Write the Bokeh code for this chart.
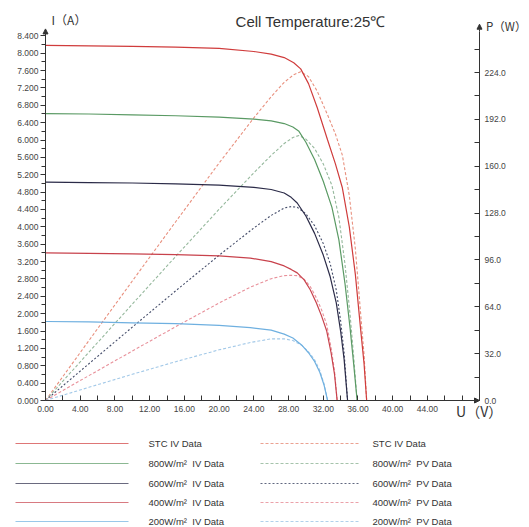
from bokeh.plotting import figure
from bokeh.models import Range1d, LinearAxis, FixedTicker, NumeralTickFormatter, Label, Arrow, NormalHead
from bokeh.layouts import column
from bokeh.core.properties import value
from bokeh.embed import file_html
from bokeh.resources import INLINE

# ---------------- data ----------------
stc_v = [0, 5, 10, 15, 20, 24, 26, 27.5, 28.6, 29.4, 30.3, 31.3, 32.5, 33.4, 34.2, 35.0, 35.7, 36.3, 36.7, 37.0]
stc_i = [8.18, 8.17, 8.16, 8.14, 8.11, 8.04, 7.98, 7.90, 7.78, 7.64, 7.30, 6.75, 6.00, 5.45, 4.90, 4.00, 2.90, 1.65, 0.85, 0.0]
stc_p = [0, 40.9, 81.6, 122.1, 162.2, 193.0, 207.5, 217.3, 222.5, 224.6, 221.2, 211.3, 195.0, 182.0, 167.6, 140.0, 103.5, 59.9, 31.2, 0]

g800_v = [0, 5, 10, 15, 20, 24, 26, 27.5, 28.5, 29.2, 30.0, 31.0, 32.0, 33.0, 33.8, 34.5, 35.1, 35.5, 35.9]
g800_i = [6.61, 6.60, 6.58, 6.56, 6.53, 6.48, 6.44, 6.38, 6.30, 6.20, 5.95, 5.55, 5.05, 4.45, 3.70, 2.70, 1.65, 0.85, 0.0]
g800_p = [0, 33.0, 65.8, 98.4, 130.6, 155.5, 167.4, 175.5, 179.6, 181.0, 178.5, 172.1, 161.6, 146.9, 125.1, 93.2, 57.9, 30.2, 0]

g600_v = [0, 5, 10, 15, 20, 24, 26, 27.5, 28.3, 29.0, 30.0, 31.0, 32.0, 32.8, 33.5, 34.0, 34.4, 34.8]
g600_i = [5.03, 5.02, 5.01, 4.99, 4.96, 4.91, 4.86, 4.78, 4.68, 4.55, 4.25, 3.85, 3.35, 2.85, 2.25, 1.60, 0.95, 0.0]
g600_p = [0, 25.1, 50.1, 74.9, 99.2, 117.8, 126.4, 131.5, 132.4, 132.0, 127.5, 119.4, 107.2, 93.5, 75.4, 54.4, 32.7, 0]

g400_v = [0, 5, 10, 15, 20, 23.6, 26, 27.5, 28.3, 29.0, 29.8, 30.5, 31.2, 31.8, 32.4, 32.9, 33.3, 33.6]
g400_i = [3.40, 3.39, 3.38, 3.36, 3.33, 3.28, 3.20, 3.10, 3.02, 2.94, 2.78, 2.55, 2.25, 1.95, 1.60, 1.10, 0.60, 0.0]
g400_p = [0, 17.0, 33.8, 50.4, 66.6, 77.4, 83.2, 85.3, 85.5, 85.3, 82.8, 77.8, 70.2, 62.0, 51.8, 36.2, 20.0, 0]

g200_v = [0, 5, 10, 15, 20, 23.6, 26, 27.5, 28.5, 29.5, 30.3, 31.0, 31.6, 32.1, 32.5]
g200_i = [1.82, 1.81, 1.79, 1.77, 1.73, 1.68, 1.62, 1.53, 1.44, 1.28, 1.10, 0.90, 0.65, 0.35, 0.0]
g200_p = [0, 9.0, 17.9, 26.5, 34.6, 39.6, 42.1, 42.1, 41.0, 37.8, 33.3, 27.9, 20.5, 11.2, 0]

x_ticks = [0, 4, 8, 12, 16, 20, 24, 28, 32, 36, 40, 44]
x_minor = [2, 6, 10, 14, 18, 22, 26, 30, 34, 38, 42, 46, 48]
i_ticks = [round(k * 0.4, 1) for k in range(22)]
i_minor = [round(0.2 + k * 0.4, 1) for k in range(21)]
p_ticks = [0, 32, 64, 96, 128, 160, 192, 224]
p_minor = [16, 48, 80, 112, 144, 176, 208, 240]

iv_labels = ["STC IV Data", "800W/m\u00b2\u00a0 IV Data", "600W/m\u00b2\u00a0 IV Data",
             "400W/m\u00b2\u00a0 IV Data", "200W/m\u00b2\u00a0 IV Data"]
pv_labels = ["STC IV Data", "800W/m\u00b2\u00a0 PV Data", "600W/m\u00b2\u00a0 PV Data",
             "400W/m\u00b2\u00a0 PV Data", "200W/m\u00b2\u00a0 PV Data"]

iv_colors = ["#d03c3c", "#5a9a64", "#2b2b48", "#c8424c", "#6fb0e0"]
pv_colors = ["#e8907e", "#95b89c", "#454d6a", "#e8909a", "#a3c9e8"]
pv_dash = ["3 2", "3 2", "2 2", "3 2", "3 2"]

FONT = "Liberation Sans"
CJK = "Noto Sans CJK SC"
AX = "#333333"

# ---------------- main chart (frame = whole canvas, axes pinned) ----------------
X_MAX, Y_MAX, P_MAX = 50, 8.5, 252
p = figure(frame_width=529, frame_height=420, min_border=0,
           x_range=Range1d(-5.184, 55.76), y_range=Range1d(-0.4607, 9.2145),
           output_backend="svg", toolbar_location=None)
p.outline_line_color = None
p.xgrid.visible = False
p.ygrid.visible = False
p.background_fill_color = "white"
p.border_fill_color = "white"
p.extra_y_ranges = {"p": Range1d(-0.4607 * P_MAX / Y_MAX, 9.2145 * P_MAX / Y_MAX)}

xa = p.xaxis[0]
xa.fixed_location = 0
xa.bounds = (0, X_MAX)
xa.ticker = FixedTicker(ticks=x_ticks, minor_ticks=x_minor)
xa.formatter = NumeralTickFormatter(format="0.00")
xa.major_tick_in = 5
xa.major_tick_out = 0
xa.minor_tick_in = 5
xa.minor_tick_out = 0
xa.major_label_standoff = 5

ya = p.yaxis[0]
ya.fixed_location = 0
ya.bounds = (0, Y_MAX)
ya.ticker = FixedTicker(ticks=i_ticks, minor_ticks=i_minor)
ya.formatter = NumeralTickFormatter(format="0.000")
ya.major_tick_in = 0
ya.major_tick_out = 5
ya.minor_tick_in = 0
ya.minor_tick_out = 4
ya.major_label_standoff = 2

ra = LinearAxis(y_range_name="p", fixed_location=X_MAX, bounds=(0, P_MAX))
ra.ticker = FixedTicker(ticks=p_ticks, minor_ticks=p_minor)
ra.formatter = NumeralTickFormatter(format="0.0")
ra.major_tick_in = 5
ra.major_tick_out = 0
ra.minor_tick_in = 5
ra.minor_tick_out = 0
ra.major_label_standoff = 5
p.add_layout(ra, "right")

for ax in (xa, ya, ra):
    ax.axis_line_color = AX
    ax.major_tick_line_color = AX
    ax.minor_tick_line_color = AX
    ax.major_label_text_color = "#444444"
    ax.major_label_text_font = FONT
    ax.major_label_text_font_size = "8.5px"

series = [(stc_v, stc_i, stc_p), (g800_v, g800_i, g800_p), (g600_v, g600_i, g600_p),
          (g400_v, g400_i, g400_p), (g200_v, g200_i, g200_p)]
for k, (v, i, pw) in enumerate(series):
    p.line(v, pw, y_range_name="p", line_color=pv_colors[k], line_width=1.1, line_dash=pv_dash[k])
    p.line(v, i, line_color=iv_colors[k], line_width=1.2)

head = dict(size=5, fill_color=AX, line_color=AX)
p.add_layout(Arrow(end=NormalHead(**head), x_start=0, y_start=Y_MAX, x_end=0, y_end=8.56, line_color=AX))
p.add_layout(Arrow(end=NormalHead(**head), x_start=X_MAX, y_start=P_MAX, x_end=X_MAX, y_end=257,
                   y_range_name="p", line_color=AX))
p.add_layout(Arrow(end=NormalHead(**head), x_start=49.5, y_start=0, x_end=X_MAX, y_end=0, line_color=AX))

def lab(txt, x, y, size, font=CJK, style="normal", color="#333333"):
    p.add_layout(Label(x=x, y=y, text=txt, text_font=font, text_font_size=size, text_font_style=style,
                       text_color=color, text_baseline="middle", text_align="left"))

lab("I\uff08A\uff09", 0.7, 8.77, "12px")
lab("Cell Temperature:25\u2103", 21.9, 8.72, "15px", font=FONT, color="#333333")
lab("P\uff08W\uff09", 50.75, 8.62, "11.5px")
lab("U\uff08V\uff09", 47.3, -0.25, "14px")

# ---------------- legend ----------------
lg = figure(frame_width=529, frame_height=107, min_border=0,
            x_range=Range1d(0, 529), y_range=Range1d(107, 0),
            x_axis_type=None, y_axis_type=None,
            output_backend="svg", toolbar_location=None)
lg.outline_line_color = None
lg.xgrid.visible = False
lg.ygrid.visible = False

rows = [23, 43, 63, 82, 101]
for k in range(5):
    y = rows[k]
    lg.line([15, 128], [y, y], line_color=iv_colors[k], line_width=1.1, line_alpha=0.7)
    lg.line([260, 358], [y, y], line_color=pv_colors[k], line_width=1.1, line_alpha=0.85,
            line_dash=pv_dash[k])
lg.text(x=[148] * 5, y=rows, text=iv_labels, text_font=value(FONT), text_font_size=value("9.5px"),
        text_color="#333333", text_baseline="middle", text_align="left")
lg.text(x=[372] * 5, y=rows, text=pv_labels, text_font=value(FONT), text_font_size=value("9.5px"),
        text_color="#333333", text_baseline="middle", text_align="left")

layout = column(p, lg, spacing=0)
open("out.html", "w").write(file_html(layout, INLINE))
